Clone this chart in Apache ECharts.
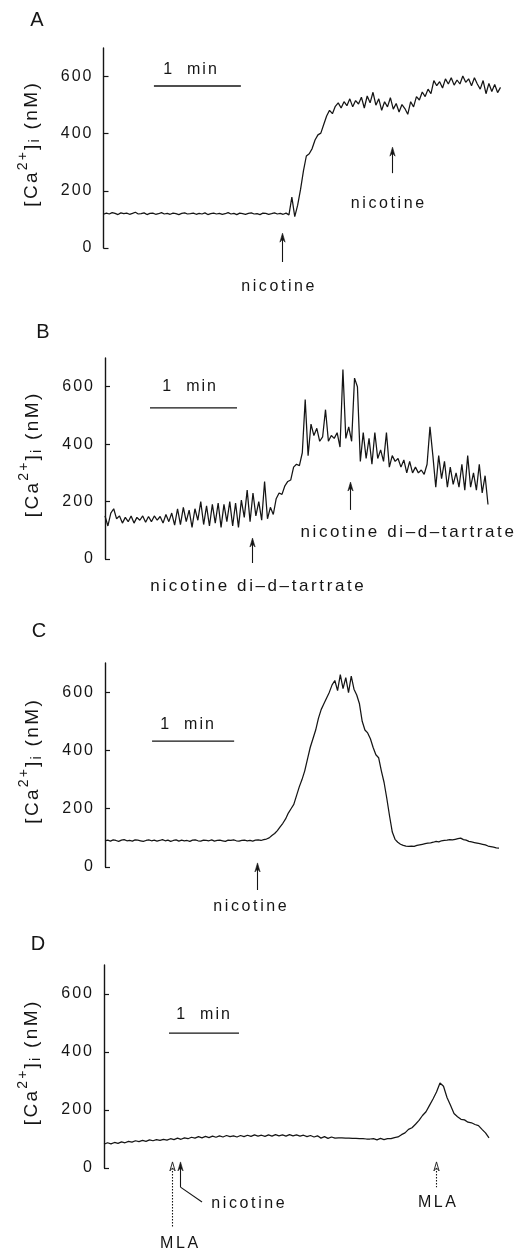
<!DOCTYPE html>
<html><head><meta charset="utf-8">
<script src="https://cdn.jsdelivr.net/npm/echarts@6/dist/echarts.min.js"></script>
<style>html,body{margin:0;padding:0;background:#fff}#c{width:527px;height:1252px}</style>
</head><body><div id="c"></div>
<script>
// ---------------- DATA ----------------
const yTicks = [0, 200, 400, 600];
const yLabelText = ['[Ca', '2+', ']', 'i', ' (nM)'];
const panelNames = ['A', 'B', 'C', 'D'];

// sample spacing (seconds) for each trace
const stepA = 2, stepB = 2, stepC = 2, stepD = 3;

const valuesA = [
118,122,119,124,121,117,123,120,122,118,
121,125,119,120,123,117,121,122,118,120,
124,119,121,118,122,120,117,121,123,119,
120,122,118,121,119,123,117,120,122,119,
121,118,120,124,119,121,117,122,120,118,
121,123,119,120,117,122,121,118,120,123,
119,121,118,122,
116,178,110,150,205,270,322,330,348,378,396,402,432,462,482,470,496,508,490,512,
498,522,494,516,504,528,490,532,508,545,500,522,482,512,494,526,486,506,476,502,
488,468,512,494,530,518,546,530,556,540,586,568,582,560,592,574,596,570,588,574,
602,580,592,568,596,574,556,586,540,576,548,572,544,562];

const valuesB = [
150,115,160,175,140,150,125,145,130,150,125,145,135,150,128,148,130,150,135,148,
125,155,130,160,118,175,120,180,130,170,110,175,135,200,120,185,115,190,125,195,
110,190,130,200,115,195,110,205,145,240,130,230,150,200,135,270,140,180,155,210,
230,225,255,270,275,320,330,325,370,555,360,470,430,455,410,425,520,410,430,420,
440,390,660,420,460,410,630,600,340,440,350,420,330,440,350,380,340,440,320,360,
340,350,320,345,300,340,300,320,300,310,295,330,460,360,250,360,280,340,250,320,
260,300,250,330,240,360,250,300,240,330,230,290,190];

const valuesC = [
90,92,89,93,91,88,92,94,90,91,89,93,92,90,88,91,93,90,92,89,
91,94,90,92,88,91,93,89,92,90,91,88,92,93,90,89,92,91,90,93,
89,91,92,90,88,92,91,93,90,89,91,92,90,91,89,92,93,91,94,
96,100,108,115,125,138,150,165,185,200,215,245,275,300,330,370,410,440,470,510,
540,560,580,600,625,640,605,660,612,650,598,655,610,590,560,500,470,460,440,410,
385,375,330,290,235,175,120,95,85,78,74,72,71,72,71,74,76,78,80,82,
83,85,88,86,90,91,92,94,93,95,97,99,94,92,88,86,84,82,80,78,
76,72,70,68,66,65];

const valuesD = [
82,87,83,88,85,90,87,92,89,94,91,95,92,97,94,98,95,99,96,101,
98,103,99,104,101,106,103,108,104,109,105,110,106,111,107,112,108,111,107,112,
108,113,109,114,110,113,109,114,110,115,111,114,110,115,111,114,110,113,108,112,
107,111,103,108,102,107,103,104,104,103,103,102,102,101,101,100,100,101,97,102,
98,101,101,105,107,115,121,133,139,151,164,181,194,216,238,262,293,282,243,216,
188,177,168,166,158,156,150,146,133,121,104];

// annotations (t in s, v in nM)
const arrowsA = [{t:123, top:52, bottom:-49, kind:'solid'}, {t:199, top:353, bottom:262, kind:'solid'}];
const labelsA = [{t:120.3, v:-136, text:'nicotine', align:'center', size:16}, {t:196, v:157, text:'nicotine', align:'center', size:16}];
const barA = {t:34.8, v:567, textT:59.7, textV:623};

const arrowsB = [{t:101.4, top:73, bottom:-14, kind:'solid'}, {t:169, top:268, bottom:171, kind:'solid'}];
const labelsB = [{t:104.8, v:-94, text:'nicotine di–d–tartrate', align:'center', size:17}, {t:208.3, v:94, text:'nicotine di–d–tartrate', align:'center', size:17}];
const barB = {t:31, v:526, textT:58, textV:599};

const arrowsC = [{t:111.2, top:14, bottom:-79, kind:'solid'}];
const labelsC = [{t:106, v:-137, text:'nicotine', align:'center', size:16}];
const barC = {t:34.4, v:432, textT:60, textV:487};

const arrowsD = [{t:58.3, top:21, bottom:-207, kind:'dotted'}, {t:65.1, top:21, bottom:-66, kind:'solid', leadT:84, leadV:-117}, {t:284.6, top:21, bottom:-66, kind:'dotted'}];
const labelsD = [{t:64.3, v:-259, text:'MLA', align:'center', size:16}, {t:90.9, v:-124, text:'nicotine', align:'left', size:16}, {t:285.4, v:-121, text:'MLA', align:'center', size:16}];
const barD = {t:55.7, v:465, textT:84.9, textV:528};

// ---------------- LAYOUT ----------------
const FONT = '"Liberation Sans", Arial, sans-serif';
const INK = '#151515';
const grids = [
  {left:103.5, top:48, width:397, height:200},
  {left:105, top:358, width:383, height:201},
  {left:105, top:663, width:394, height:204},
  {left:104, top:965, width:385, height:203}
];
const letterPos = [[37, 20], [43, 332], [39, 631], [38, 944]];
const traces = [
  {values:valuesA, step:stepA}, {values:valuesB, step:stepB},
  {values:valuesC, step:stepC}, {values:valuesD, step:stepD}
];
const annos = [
  {arrows:arrowsA, labels:labelsA, bar:barA},
  {arrows:arrowsB, labels:labelsB, bar:barB},
  {arrows:arrowsC, labels:labelsC, bar:barC},
  {arrows:arrowsD, labels:labelsD, bar:barD}
];

function track(s, name){ return s.split('').map(ch => '{' + name + '|' + ch + '}').join(''); }

const chart = echarts.init(document.getElementById('c'), null, {renderer:'canvas'});
const option = {
  animation:false,
  backgroundColor:'#fff',
  grid: grids.map(g => Object.assign({containLabel:false}, g)),
  xAxis: traces.map((tr, i) => ({
    type:'value', gridIndex:i, min:0, max:(tr.values.length - 1) * tr.step, show:false
  })),
  yAxis: traces.map((tr, i) => ({
    type:'value', gridIndex:i, min:0, max:700, interval:100,
    axisLine:{show:true, lineStyle:{color:INK, width:1.4}},
    axisTick:{show:true, inside:true, length:5, customValues:yTicks, lineStyle:{color:INK, width:1.2}},
    axisLabel:{show:true, customValues:yTicks, margin:11,
      formatter: v => track(String(v), 't'),
      rich:{t:{fontFamily:FONT, fontSize:16, color:INK, padding:[0,1,0,1]}}},
    splitLine:{show:false}
  })),
  series: traces.map((tr, i) => ({
    type:'line', xAxisIndex:i, yAxisIndex:i, showSymbol:false, symbol:'none',
    lineStyle:{color:INK, width:1.25},
    data: tr.values.map((v, k) => [k * tr.step, v])
  }))
};
chart.setOption(option);

function P(i, t, v){ return chart.convertToPixel({xAxisIndex:i, yAxisIndex:i}, [t, v]); }
function rich(size, tr){ return {c:{fontFamily:FONT, fontSize:size, fill:INK, padding:[0,tr,0,tr]}}; }
const g = [];
annos.forEach((a, i) => {
  // scale bar
  const b0 = P(i, a.bar.t, a.bar.v), b1 = P(i, a.bar.t + 60, a.bar.v);
  g.push({type:'line', shape:{x1:b0[0], y1:b0[1], x2:b1[0], y2:b1[1]}, style:{stroke:INK, lineWidth:1.3}});
  const bt = P(i, a.bar.textT, a.bar.textV);
  g.push({type:'text', x:bt[0], y:bt[1], style:{text:track('1  min','c'), rich:rich(16, 1), align:'center', verticalAlign:'middle'}});
  // arrows
  a.arrows.forEach(ar => {
    const p0 = P(i, ar.t, ar.top), p1 = P(i, ar.t, ar.bottom);
    const x = Math.round(p0[0]) + 0.5;
    const dash = ar.kind === 'dotted' ? [1.5, 1.5] : null;
    g.push({type:'line', shape:{x1:x, y1:p0[1] + 3, x2:x, y2:p1[1]}, style:{stroke:INK, lineWidth:1.1, lineDash:dash}});
    const head = [[x, p0[1]], [x - 2.6, p0[1] + 9], [x, p0[1] + 6], [x + 2.6, p0[1] + 9]];
    if (ar.kind === 'dotted') {
      g.push({type:'polygon', shape:{points:head}, style:{fill:'#fff', stroke:INK, lineWidth:0.9}});
    } else {
      g.push({type:'polygon', shape:{points:head}, style:{fill:INK, stroke:INK, lineWidth:0.6}});
    }
    if (ar.leadT !== undefined) {
      const q = P(i, ar.leadT, ar.leadV);
      g.push({type:'line', shape:{x1:x, y1:p1[1], x2:q[0], y2:q[1]}, style:{stroke:INK, lineWidth:1.1}});
    }
  });
  a.labels.forEach(l => {
    const p = P(i, l.t, l.v);
    g.push({type:'text', x:p[0], y:p[1], style:{text:track(l.text,'c'), rich:rich(l.size, 1.3), align:l.align, verticalAlign:'middle'}});
  });
  // y axis name
  const mid = P(i, 0, 350);
  g.push({type:'text', x:mid[0] - 72, y:mid[1] - 3, rotation:Math.PI/2,
    style:{
      text: track(yLabelText[0],'m') + track(yLabelText[1],'sup') + track(yLabelText[2],'m') + track(yLabelText[3],'sub') + track(yLabelText[4],'m'),
      rich:{
        m:{fontFamily:FONT, fontSize:19, fill:INK, padding:[0,1.2,0,1.2], verticalAlign:'middle'},
        sup:{fontFamily:FONT, fontSize:14, fill:INK, padding:[0,1,17,1], verticalAlign:'middle'},
        sub:{fontFamily:FONT, fontSize:14, fill:INK, padding:[8,1,0,1], verticalAlign:'middle'}
      },
      align:'center', verticalAlign:'middle'
    }});
  // panel letter
  g.push({type:'text', x:letterPos[i][0], y:letterPos[i][1], style:{text:panelNames[i], fontFamily:FONT, fontSize:20, fill:INK, align:'center', verticalAlign:'middle'}});
});
chart.setOption({graphic:{elements:g}});
</script>
</body></html>
